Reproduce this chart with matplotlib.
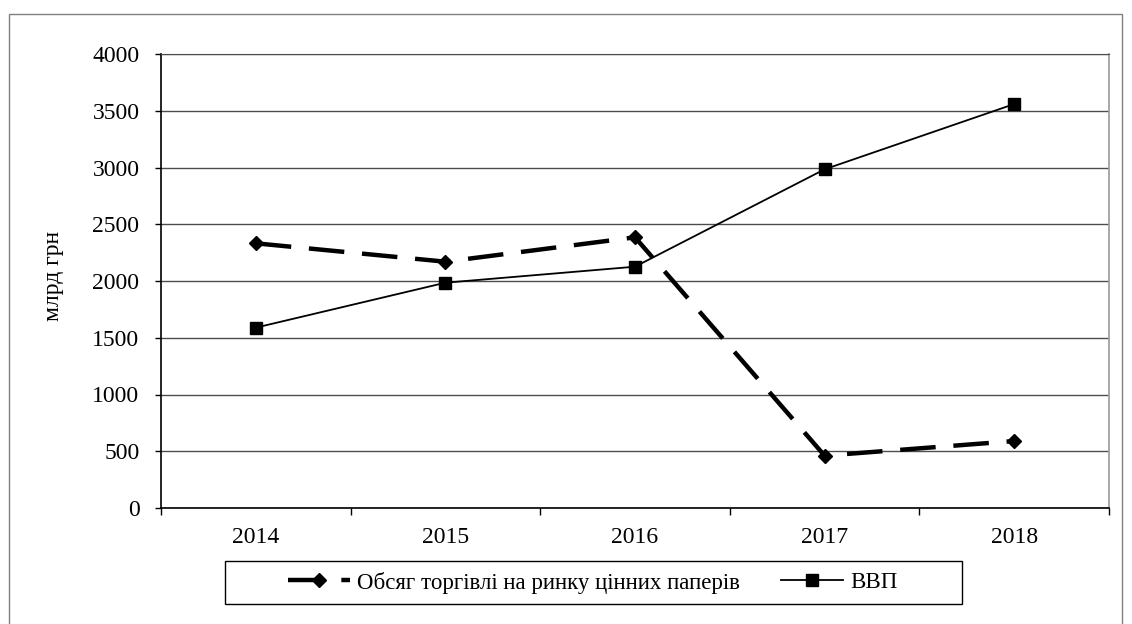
import matplotlib
matplotlib.use("Agg")
import matplotlib.pyplot as plt
from matplotlib.patches import Rectangle
from matplotlib.ticker import FixedLocator, NullFormatter

years = ["2014", "2015", "2016", "2017", "2018"]
trade_volume = [2332, 2170, 2385, 461, 590]   # Обсяг торгівлі на ринку цінних паперів
gdp = [1589, 1985, 2126, 2984, 3559]          # ВВП
y_ticks = [0, 500, 1000, 1500, 2000, 2500, 3000, 3500, 4000]

label_trade = "Обсяг торгівлі на ринку цінних паперів"
label_gdp = "ВВП"
y_label = "млрд грн"

plt.rcParams["font.family"] = ["Liberation Serif", "DejaVu Serif"]

W, H = 1132, 624
fig = plt.figure(figsize=(W / 100, H / 100), dpi=100)
fig.patch.set_facecolor("white")

# outer frame (open at the bottom)
fig.patches.append(Rectangle((8.5 / W, -0.05), (1121.5 - 8.5) / W, 1.05 - 14 / H,
                             transform=fig.transFigure, fill=False,
                             edgecolor="#808080", linewidth=1.0))

ax = fig.add_axes([161 / W, (H - 508) / H, (1109 - 161) / W, (508 - 54) / H])

x = list(range(1, len(years) + 1))

ax.plot(x, trade_volume, color="black", linewidth=3.2, linestyle=(0, (8, 4)),
        marker="D", markersize=7, label=label_trade, zorder=3)
ax.plot(x, gdp, color="black", linewidth=1.3, marker="s", markersize=9,
        label=label_gdp, zorder=3)

ax.set_xlim(0.5, len(years) + 0.5)
ax.set_ylim(0, 4000)

# category ticks at boundaries, labels in the middle
ax.xaxis.set_major_locator(FixedLocator([i + 0.5 for i in range(len(years) + 1)]))
ax.xaxis.set_major_formatter(NullFormatter())
ax.xaxis.set_minor_locator(FixedLocator(x))
ax.set_xticklabels(years, minor=True)
ax.tick_params(axis="x", which="major", direction="out", length=5, width=1, color="black")
ax.tick_params(axis="x", which="minor", length=0, pad=14, labelsize=17)

ax.set_yticks(y_ticks)
ax.tick_params(axis="y", direction="out", length=4.5, width=1, color="black",
               pad=11, labelsize=17)

ax.grid(axis="y", color="#4d4d4d", linewidth=1.0)
ax.set_axisbelow(True)
ax.spines["right"].set_color("#999999")
ax.spines["right"].set_linewidth(1.2)
ax.spines["top"].set_color("#4d4d4d")
for side in ("left", "bottom"):
    ax.spines[side].set_color("black")
    ax.spines[side].set_linewidth(1.2)

fig.text(53.5 / W, 1 - 276 / H, y_label, rotation=90, ha="center", va="center", fontsize=17)

# legend box drawn separately so its size matches the reference
fig.patches.append(Rectangle((225 / W, (H - 604) / H), 737 / W, 43 / H,
                             transform=fig.transFigure, fill=False,
                             edgecolor="black", linewidth=1.0))
leg = ax.legend(loc="center", ncol=2, bbox_to_anchor=(593 / W, 1 - 582.5 / H),
                bbox_transform=fig.transFigure, frameon=False,
                fontsize=16.5, handlelength=2.7, handletextpad=0.3,
                borderaxespad=0, columnspacing=1.8)

fig.savefig("out.png", dpi=100, facecolor="white")
